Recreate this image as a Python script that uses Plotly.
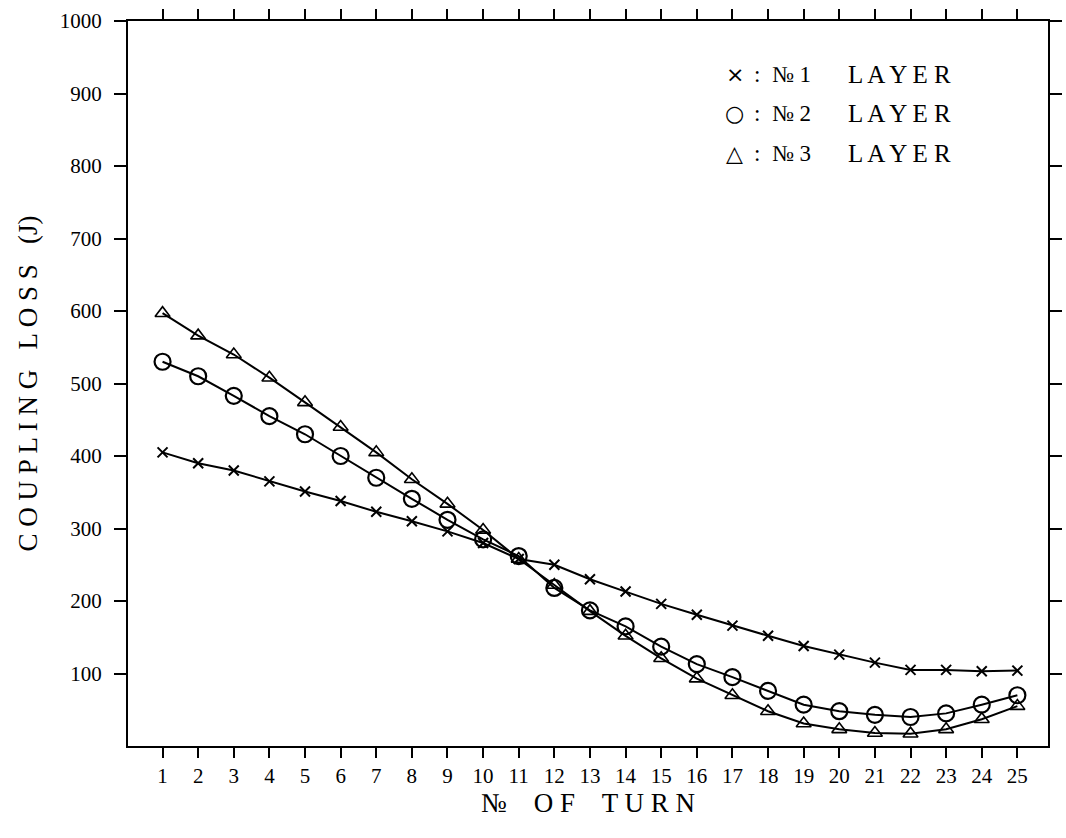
import plotly.graph_objects as go

turns = list(range(1, 26))
layer1 = [405, 390, 380, 365, 351, 338, 323, 310, 296, 280, 258, 250, 230, 213, 196,
          181, 166, 152, 138, 126, 115, 105, 105, 103, 104]
layer2 = [530, 510, 483, 455, 430, 400, 370, 341, 312, 285, 262, 218, 187, 165, 137,
          113, 95, 76, 57, 48, 43, 40, 45, 57, 70]
layer3 = [597, 566, 540, 508, 474, 440, 405, 368, 334, 298, 258, 222, 186, 152, 121,
          93, 70, 48, 31, 23, 18, 17, 23, 37, 55]
y_ticks = [100, 200, 300, 400, 500, 600, 700, 800, 900, 1000]

FONT = "Liberation Serif"

fig = go.Figure()
fig.add_trace(go.Scatter(x=turns, y=layer1, mode="lines+markers",
                         line=dict(color="black", width=2),
                         marker=dict(symbol="x-thin-open", size=10, color="black",
                                     line=dict(color="black", width=2)),
                         name="No.1 LAYER"))
fig.add_trace(go.Scatter(x=turns, y=layer2, mode="lines+markers",
                         line=dict(color="black", width=2),
                         marker=dict(symbol="circle-open", size=16, color="black",
                                     line=dict(color="black", width=2.2)),
                         name="No.2 LAYER"))
fig.add_trace(go.Scatter(x=turns, y=layer3, mode="lines+markers",
                         line=dict(color="black", width=2),
                         marker=dict(symbol="triangle-up-open", size=13, color="black",
                                     line=dict(color="black", width=1.6)),
                         name="No.3 LAYER"))

fig.update_layout(
    width=1066, height=838,
    margin=dict(l=128, r=4, t=21, b=92),
    paper_bgcolor="white", plot_bgcolor="white",
    showlegend=False,
    font=dict(family=FONT, color="black", size=21),
)
fig.update_xaxes(range=[0.03, 25.86], tickvals=turns, ticktext=[str(t) for t in turns],
                 showgrid=False, zeroline=False, showline=True, linecolor="black",
                 linewidth=2, mirror="ticks", ticks="outside", ticklen=10,
                 tickwidth=1.5, tickcolor="black",
                 tickfont=dict(family=FONT, size=21),
                 title=dict(text="№    O F    T U R N", font=dict(family=FONT, size=27),
                            standoff=6))
fig.update_yaxes(range=[0, 1000], tickvals=y_ticks, ticktext=[str(v) for v in y_ticks],
                 showgrid=False, zeroline=False, showline=True, linecolor="black",
                 linewidth=2, mirror="ticks", ticks="outside", ticklen=12,
                 tickwidth=1.5, tickcolor="black", ticklabelstandoff=8,
                 tickfont=dict(family=FONT, size=21),
                 title=dict(text="C O U P L I N G   L O S S   (J)",
                            font=dict(family=FONT, size=27), standoff=14))

legend_rows = [("×", "№ 1"), ("○", "№ 2"), ("△", "№ 3")]
legend_y = [74, 113, 153]
W = 1062 - 128
H = 838 - 21 - 92
for (sym, no), yp in zip(legend_rows, legend_y):
    yy = 1 - (yp - 21) / H
    fig.add_annotation(x=(744 - 128) / W, y=yy, xref="paper", yref="paper",
                       text=sym, showarrow=False, xanchor="center",
                       yanchor="middle", font=dict(family="DejaVu Sans", size=22, color="black"))
    fig.add_annotation(x=(762 - 128) / W, y=yy, xref="paper", yref="paper",
                       text=f":  {no}", showarrow=False, xanchor="left",
                       yanchor="middle", font=dict(family=FONT, size=23, color="black"))
    fig.add_annotation(x=(857 - 128) / W, y=yy, xref="paper", yref="paper",
                       text="L A Y E R", showarrow=False, xanchor="left",
                       yanchor="middle", font=dict(family=FONT, size=25, color="black"))

fig.write_html("out.html")
